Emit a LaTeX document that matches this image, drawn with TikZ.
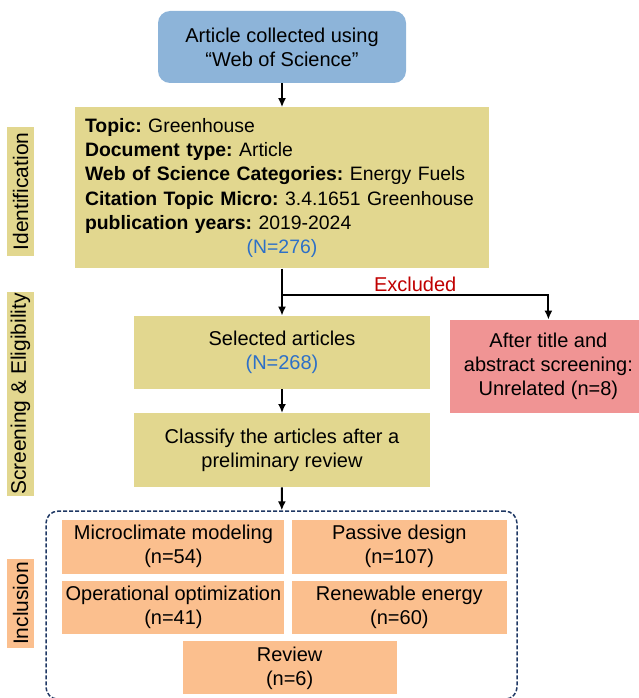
\documentclass[tikz,border=0pt]{standalone}
\usepackage{fontspec}
\setmainfont{Liberation Sans}
\usetikzlibrary{positioning, arrows.meta, calc}
\definecolor{srcblue}{RGB}{141,180,217}
\definecolor{khaki}{RGB}{226,215,143}
\definecolor{excpink}{RGB}{240,148,148}
\definecolor{catorange}{RGB}{251,191,142}
\definecolor{numblue}{RGB}{45,112,200}
\definecolor{excred}{RGB}{192,0,0}
\definecolor{framenavy}{RGB}{31,56,100}
\tikzset{
  >={Latex[length=9pt,width=8pt]}, % filled arrow heads
  txt/.style={font=\fontsize{20}{24}\selectfont},
  box/.style={rectangle, txt, inner sep=0pt, align=center}, % every coloured box
  stagebox/.style={box, fill=khaki},
  catbox/.style={box, fill=catorange, minimum height=53pt},
  side/.style={rectangle, font=\fontsize{21}{24}\selectfont, inner sep=0pt, rotate=90, minimum height=27pt}, % stage labels on the left
  link/.style={->, line width=2pt, black} % connectors
}

\begin{document}
\begin{tikzpicture}[x=1pt, y=-1pt]
    \useasboundingbox (0,0) rectangle (639,698);

    \node[box, fill=srcblue, rounded corners=12pt, minimum width=248pt, minimum height=72pt] (source) at (282,47)
      {Article collected using\\``Web of Science''};

    \node[stagebox, below=24pt of source, minimum width=414pt, minimum height=161pt,
          text width=394pt, align=left, font=\fontsize{19.4}{24.2}\selectfont\frenchspacing] (ident)
      {\textbf{Topic:} Greenhouse\\
       \textbf{Document type:} Article\\
       \textbf{Web of Science Categories:} Energy Fuels\\
       \textbf{Citation Topic Micro:} 3.4.1651 Greenhouse\\
       \textbf{publication years:} 2019-2024\\
       \makebox[\linewidth]{\color{numblue}(N=276)}};

    \node[stagebox, below=47pt of ident, minimum width=296pt, minimum height=73pt] (selected)
      {Selected articles\\{\color{numblue}(N=268)}};
    \node[box, fill=excpink, below right=4pt and 20pt of selected.north east,
          minimum width=196pt, minimum height=93pt] (unrelated)
      {After title and\\abstract screening:\\Unrelated (n=8)};
    \node[stagebox, below=24pt of selected, minimum width=296pt, minimum height=74pt] (classify)
      {Classify the articles after a\\preliminary review};

    % dashed frame round the categories
    \node[draw=framenavy, line width=1.5pt, dash pattern=on 4pt off 2pt, rounded corners=12pt,
          below=23pt of classify, minimum width=471pt, minimum height=188pt, xshift=-0.5pt] (frame) {};

    \node[catbox, below right=9pt and 17pt of frame.north west, minimum width=222pt, minimum height=54pt] (micro)
      {Microclimate modeling\\(n=54)};
    \node[catbox, right=7pt of micro, minimum width=215pt, minimum height=54pt] (passive)
      {Passive design\\(n=107)};
    \node[catbox, below=7pt of micro, minimum width=222pt] (operational)
      {Operational optimization\\(n=41)};
    \node[catbox, below=7pt of passive, minimum width=215pt] (renewable)
      {Renewable energy\\(n=60)};
    \node[catbox, below=7pt of operational.south east, xshift=5pt, minimum width=214pt] (review)
      {Review\\(n=6)};

    \node[side, fill=khaki, minimum width=129pt] (identlabel) at (20.5,191.5) {Identification};
    \node[side, fill=khaki, minimum width=204pt] (screenlabel) at (20.5,394) {Screening \& Eligibility};
    \node[side, fill=catorange, minimum width=89pt] (inclusionlabel) at (20.5,603.5) {Inclusion};

    \coordinate (split) at ($(ident.south)+(0,26)$);
    \draw[link] (source) -- (ident);
    \draw[link] (ident) -- (selected);
    \draw[link] (split) -| node[pos=0.25, above, txt, text=excred, inner sep=2pt] {Excluded} (unrelated);
    \draw[link] (selected) -- (classify);
    \draw[link] (classify) -- (frame);
\end{tikzpicture}
\end{document}
